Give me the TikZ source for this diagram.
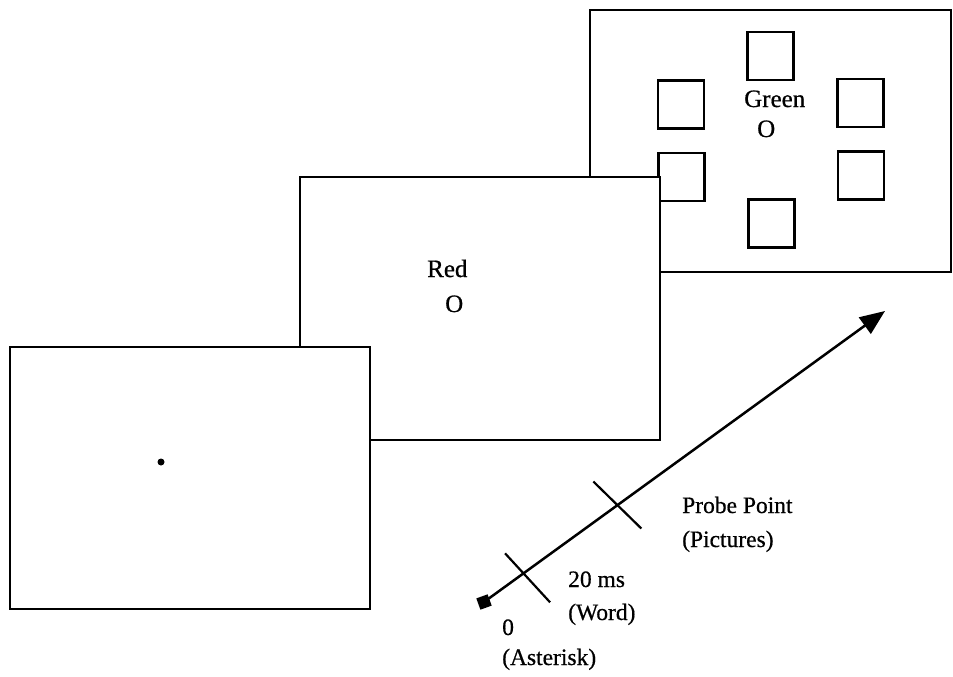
\documentclass[tikz,border=0pt]{standalone}
\usepackage{fontspec}
\setmainfont{Liberation Serif}[FakeBold=0.6]
\usetikzlibrary{arrows.meta,calc}
\begin{document}
\begin{tikzpicture}[x=1pt,y=-1pt,
  screen/.style={draw,fill=white,line width=2.5pt,rectangle,inner sep=0pt,minimum width=360pt,minimum height=262pt},
  stim/.style={draw,fill=white,line width=2.5pt,rectangle,inner sep=0pt,minimum width=46pt,minimum height=48pt},
  lab/.style={anchor=base west,inner sep=0pt,font=\fontsize{23.5}{27}\selectfont},
  slab/.style={anchor=base west,inner sep=0pt,font=\fontsize{25}{29}\selectfont},
  tick/.style={line width=2.2pt}]
\useasboundingbox (0,0) rectangle (953,677);
% third screen
\node[screen,minimum width=361pt] (s3) at (770.5,141) {};
\node[stim] (q1) at (770.5,56) {};
\node[stim] (q2) at (681,104.5) {};
\node[stim] (q3) at (860.5,103) {};
\node[stim] (q4) at (681.5,177) {};
\node[stim] (q5) at (861,175.5) {};
\node[stim] (q6) at (771.5,223.5) {};
\node[slab] (green) at (744,107) {Green};
\node[slab] (go) at (757,137) {O};
% second screen
\node[screen,minimum height=263pt] (s2) at (480,308.5) {};
\node[slab] (red) at (427,277) {Red};
\node[slab] (ro) at (445,312) {O};
% first screen
\node[screen] (s1) at (190,478) {};
\node[circle,fill=black,inner sep=0pt,minimum size=7pt] (ast) at (161,462) {};
% time line
\coordinate (st) at (484,602);
\coordinate (en) at (885,311);
\draw[line width=2.5pt,-{Triangle[length=25pt,width=20pt]}] (st) -- (en);
\node[rectangle,fill=black,inner sep=0pt,minimum size=12pt,rotate=20] (mk) at (st) {};
\coordinate (t1) at ($(st)!0.095!(en)$);
\coordinate (t2) at ($(st)!0.335!(en)$);
\draw[tick] ($(t1)+(-17,-21)$) -- ($(t1)+(28,28)$);
\draw[tick] ($(t2)+(-25,-23)$) -- ($(t2)+(23,24)$);
\node[lab] (l20) at (568,587) {20 ms};
\node[lab] (lw) at (568,620) {(Word)};
\node[lab] (l0) at (502,635) {0};
\node[lab] (la) at (502,665) {(Asterisk)};
\node[lab] (lp) at (682,513) {Probe Point};
\node[lab] (lpi) at (682,547) {(Pictures)};
\end{tikzpicture}
\end{document}
